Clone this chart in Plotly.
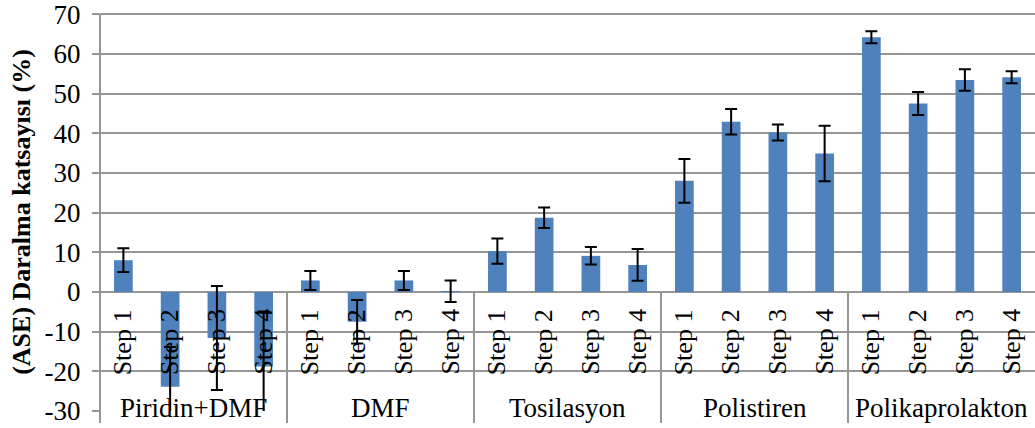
import plotly.graph_objects as go

groups = ["Piridin+DMF", "DMF", "Tosilasyon", "Polistiren", "Polikaprolakton"]
steps = ["Step 1", "Step 2", "Step 3", "Step 4"]
values = [8.0, -23.9, -11.6, -18.8,
          2.9, -7.5, 2.9, 0.2,
          10.3, 18.7, 9.1, 6.8,
          28.0, 42.9, 40.2, 34.9,
          64.2, 47.5, 53.4, 54.1]
errors = [3.0, 10.0, 13.1, 13.9,
          2.4, 5.5, 2.4, 2.7,
          3.2, 2.6, 2.2, 4.0,
          5.5, 3.2, 2.0, 7.0,
          1.5, 2.9, 2.7, 1.5]
y_ticks = [-30, -20, -10, 0, 10, 20, 30, 40, 50, 60, 70]
y_ticktext = ["-30", "-20", "-10", "0", "10", "20", "30", "40", "50", "60", "70"]

FONT = "Liberation Serif"
GRID = "#969696"
n = len(values)
xs = list(range(n))

fig = go.Figure()
fig.add_trace(go.Bar(
    x=xs, y=values, width=0.4,
    marker=dict(color="#4F81BD", line=dict(width=0)),
    error_y=dict(type="data", array=errors, visible=True,
                 color="black", thickness=2, width=6),
    showlegend=False,
))

annotations = []
for i in xs:
    annotations.append(dict(
        x=i, y=-12.6, xref="x", yref="y", text=steps[i % 4],
        textangle=-90, showarrow=False, xanchor="center", yanchor="middle",
        font=dict(family=FONT, size=26, color="black")))
for g, name in enumerate(groups):
    annotations.append(dict(
        x=g * 4 + 1.5, y=-29.2, xref="x", yref="y", text=name,
        showarrow=False, xanchor="center", yanchor="middle",
        font=dict(family=FONT, size=27, color="black")))

shapes = []
for g in range(1, len(groups)):
    shapes.append(dict(type="line", xref="paper", yref="paper",
                       x0=g * 4 / n, x1=g * 4 / n, y0=0.3, y1=-0.03,
                       line=dict(color=GRID, width=2), layer="above"))
shapes.append(dict(type="line", xref="paper", yref="paper",
                   x0=0, x1=0, y0=0.999, y1=-0.03,
                   line=dict(color=GRID, width=2), layer="above"))

fig.update_layout(
    width=1035, height=428,
    margin=dict(l=100, r=0, t=13, b=17),
    paper_bgcolor="white", plot_bgcolor="white",
    font=dict(family=FONT, color="black"),
    xaxis=dict(range=[-0.5, n - 0.5], showticklabels=False, showgrid=False,
               zeroline=False, showline=False, ticks=""),
    yaxis=dict(range=[-30, 70.3], tickvals=y_ticks, ticktext=y_ticktext,
               showgrid=True,
               gridcolor=GRID, gridwidth=2, zeroline=False, showline=False,
               ticks="outside", ticklen=7, tickcolor=GRID, tickwidth=2,
               ticklabelstandoff=6, ticklabeloverflow="allow",
               tickfont=dict(family=FONT, size=27, color="black"),
               title=dict(text="<b>(ASE) Daralma katsayısı (%)</b>",
                          font=dict(family=FONT, size=26, color="black"),
                          standoff=6)),
    annotations=annotations, shapes=shapes,
    bargap=0.6,
)

fig.write_html("out.html", config={"displayModeBar": False},
               post_script="document.body.style.margin='0';document.body.style.overflow='hidden';")
